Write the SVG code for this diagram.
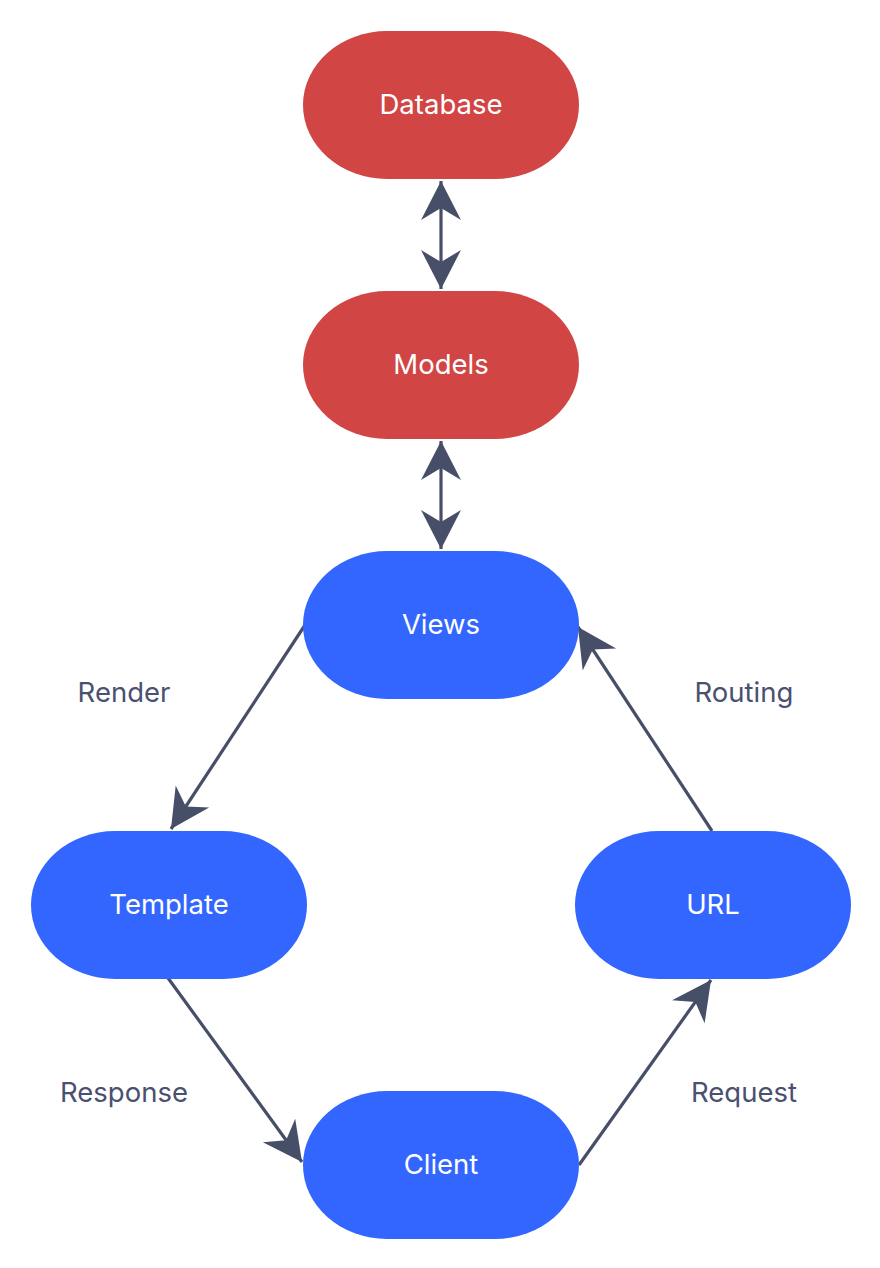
<svg xmlns="http://www.w3.org/2000/svg" width="880" height="1268" viewBox="0 0 880 1268">
<style>
.red{fill:#d14545}
.blue{fill:#3366ff}
.nt{font-family:Inter,"Noto Sans","Liberation Sans",sans-serif;font-size:27.5px;fill:#ffffff;text-anchor:middle;dominant-baseline:central}
.lt{font-family:Inter,"Noto Sans","Liberation Sans",sans-serif;font-size:27.5px;fill:#4a5070;text-anchor:middle;dominant-baseline:central}
.c{stroke:#474e68;stroke-width:3.2;fill:none}
</style>
<defs>
<marker id="ah" markerUnits="userSpaceOnUse" markerWidth="44" markerHeight="44" viewBox="-40 -22 44 44" refX="0" refY="0" orient="auto-start-reverse">
<path d="M0,0 L-39,-20 L-27,0 L-39,20 Z" fill="#474e68"/>
</marker>
</defs>
<rect width="880" height="1268" fill="#ffffff"/>
<g id="connectors">
<line class="c" x1="441" y1="181" x2="441" y2="289" marker-start="url(#ah)" marker-end="url(#ah)"/>
<line class="c" x1="441" y1="441" x2="441" y2="549" marker-start="url(#ah)" marker-end="url(#ah)"/>
<line class="c" x1="305" y1="625" x2="171" y2="829" marker-end="url(#ah)"/>
<line class="c" x1="168" y1="978" x2="302" y2="1162" marker-end="url(#ah)"/>
<line class="c" x1="579" y1="1165" x2="711" y2="980" marker-end="url(#ah)"/>
<line class="c" x1="712" y1="831" x2="578" y2="627" marker-end="url(#ah)"/>
</g>
<g id="labels">
<text class="lt" x="124" y="692">Render</text>
<text class="lt" x="744" y="692">Routing</text>
<text class="lt" x="124" y="1092">Response</text>
<text class="lt" x="744" y="1092">Request</text>
</g>
<g id="database"><rect class="red" x="303" y="31" width="276" height="148" rx="84" ry="74"/><text class="nt" x="441" y="104">Database</text></g>
<g id="models"><rect class="red" x="303" y="291" width="276" height="148" rx="84" ry="74"/><text class="nt" x="441" y="364">Models</text></g>
<g id="views"><rect class="blue" x="303" y="551" width="276" height="148" rx="84" ry="74"/><text class="nt" x="441" y="624">Views</text></g>
<g id="template"><rect class="blue" x="31" y="831" width="276" height="148" rx="84" ry="74"/><text class="nt" x="169" y="904">Template</text></g>
<g id="url"><rect class="blue" x="575" y="831" width="276" height="148" rx="84" ry="74"/><text class="nt" x="713" y="904">URL</text></g>
<g id="client"><rect class="blue" x="303" y="1091" width="276" height="148" rx="84" ry="74"/><text class="nt" x="441" y="1164">Client</text></g>
</svg>
